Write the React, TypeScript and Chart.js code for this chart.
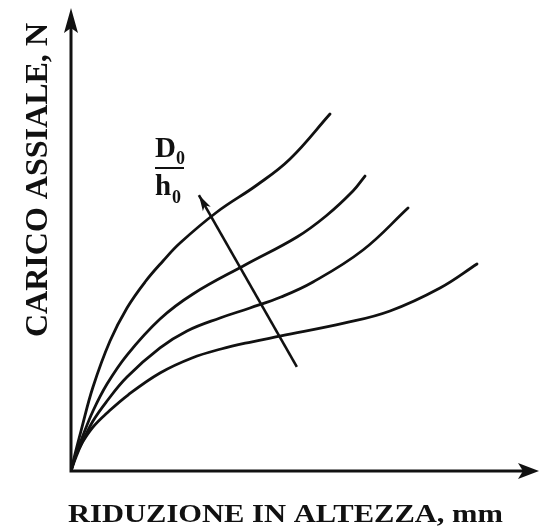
import React, { useEffect, useRef } from "react";
import { Chart, registerables } from "chart.js";

Chart.register(...registerables);

// Reduction in height (arbitrary units, 0-100) and axial load (arbitrary units, 0-100)
const curve1X = [0, 0.87, 2.17, 4.78, 8.48, 12.17, 16.09, 20.0, 23.7, 31.74, 40.43, 47.61, 56.3];
const curve1Y = [0, 3.67, 8.64, 18.14, 28.08, 35.21, 40.82, 45.36, 49.24, 55.94, 61.77, 67.39, 77.11];

const curve2X = [0, 1.09, 2.39, 4.78, 7.83, 12.17, 19.35, 26.52, 37.83, 49.13, 55.43, 61.3, 63.91];
const curve2Y = [0, 3.67, 7.13, 12.96, 18.79, 25.05, 32.83, 38.23, 44.49, 50.54, 55.08, 60.48, 63.71];

const curve3X = [0, 1.09, 2.39, 4.78, 7.83, 12.17, 19.35, 25.22, 32.39, 38.91, 45.65, 52.61, 63.48, 73.26];
const curve3Y = [0, 3.02, 6.05, 10.8, 15.12, 20.3, 26.57, 30.24, 33.05, 35.21, 37.58, 40.82, 47.73, 56.8];

const curve4X = [0, 1.09, 2.39, 4.78, 7.83, 12.39, 19.35, 26.3, 32.61, 39.13, 45.65, 59.57, 69.35, 80.22, 88.26];
const curve4Y = [0, 3.46, 6.05, 9.5, 12.53, 16.41, 21.17, 24.41, 26.35, 27.86, 29.16, 31.97, 34.56, 39.52, 44.71];

// Direction arrow for increasing D0/h0 (tail -> tip)
const arrowX = [49.1, 27.8];
const arrowY = [22.5, 59.6];

const xTitle = "RIDUZIONE IN ALTEZZA, mm";
const yTitle = "CARICO ASSIALE, N";
const ratioTop = "D";
const ratioBottom = "h";
const ratioSub = "0";

const INK = "#111111";
const SERIF = '"Liberation Serif", "DejaVu Serif", serif';

const toPoints = (xs: number[], ys: number[]) => xs.map((x, i) => ({ x, y: ys[i] }));

const drawHead = (
  ctx: CanvasRenderingContext2D,
  tx: number,
  ty: number,
  ang: number,
  len: number,
  half: number,
  notch: number
) => {
  ctx.save();
  ctx.translate(tx, ty);
  ctx.rotate(ang);
  ctx.beginPath();
  ctx.moveTo(0, 0);
  ctx.lineTo(-len, -half);
  ctx.lineTo(-len + notch, 0);
  ctx.lineTo(-len, half);
  ctx.closePath();
  ctx.fill();
  ctx.restore();
};

const fitText = (
  ctx: CanvasRenderingContext2D,
  text: string,
  font: string,
  targetWidth: number
) => {
  ctx.font = font;
  const w = ctx.measureText(text).width;
  ctx.save();
  ctx.scale(targetWidth / w, 1);
  ctx.fillText(text, 0, 0);
  ctx.restore();
};

const decorPlugin = {
  id: "decor",
  afterDatasetsDraw(chart: any) {
    const { ctx, chartArea, scales } = chart;
    const { left, bottom, top } = chartArea;
    const W = chart.width;
    ctx.save();
    ctx.fillStyle = INK;
    ctx.strokeStyle = INK;
    ctx.lineCap = "butt";

    // axes
    ctx.lineWidth = 3;
    ctx.beginPath();
    ctx.moveTo(left, bottom + 1.5);
    ctx.lineTo(left, top + 18);
    ctx.moveTo(left - 1.5, bottom);
    ctx.lineTo(W - 14, bottom);
    ctx.stroke();
    drawHead(ctx, left, top, -Math.PI / 2, 25, 7, 5);
    drawHead(ctx, W, bottom, 0, 21, 8, 5);

    // D0/h0 arrow head
    const xs = scales.x;
    const ys = scales.y;
    const x0 = xs.getPixelForValue(arrowX[0]);
    const y0 = ys.getPixelForValue(arrowY[0]);
    const x1 = xs.getPixelForValue(arrowX[1]);
    const y1 = ys.getPixelForValue(arrowY[1]);
    const ang = Math.atan2(y1 - y0, x1 - x0);
    drawHead(ctx, x1, y1, ang, 16, 4.5, 4);

    // ratio label
    ctx.textBaseline = "alphabetic";
    ctx.textAlign = "left";
    ctx.font = `bold 29px ${SERIF}`;
    ctx.fillText(ratioTop, 155, 157);
    ctx.fillText(ratioBottom, 155, 195);
    ctx.font = `bold 18px ${SERIF}`;
    ctx.fillText(ratioSub, 176, 164);
    ctx.fillText(ratioSub, 172, 203);
    ctx.fillRect(155, 167, 29, 2);

    // x title
    ctx.save();
    ctx.translate(68, 522);
    fitText(ctx, xTitle, `bold 25px ${SERIF}`, 435);
    ctx.restore();

    // y title
    ctx.save();
    ctx.translate(47, 337);
    ctx.rotate(-Math.PI / 2);
    fitText(ctx, yTitle, `bold 32px ${SERIF}`, 314);
    ctx.restore();

    ctx.restore();
  },
};

export default function App() {
  const canvasRef = useRef<HTMLCanvasElement | null>(null);

  useEffect(() => {
    const canvas = canvasRef.current;
    if (!canvas) return;
    const curveStyle = {
      borderColor: INK,
      borderWidth: 2.8,
      pointRadius: 0,
      fill: false,
      tension: 0.4,
      borderCapStyle: "round" as const,
      borderJoinStyle: "round" as const,
    };
    const chart = new Chart(canvas, {
      type: "line",
      data: {
        datasets: [
          { label: "D0/h0 1", data: toPoints(curve1X, curve1Y), ...curveStyle },
          { label: "D0/h0 2", data: toPoints(curve2X, curve2Y), ...curveStyle },
          { label: "D0/h0 3", data: toPoints(curve3X, curve3Y), ...curveStyle },
          { label: "D0/h0 4", data: toPoints(curve4X, curve4Y), ...curveStyle },
          {
            label: "D0/h0 crescente",
            data: toPoints(arrowX, arrowY),
            borderColor: INK,
            borderWidth: 2.6,
            pointRadius: 0,
            tension: 0,
            fill: false,
            borderCapStyle: "butt",
          },
        ],
      },
      options: {
        responsive: false,
        animation: false,
        devicePixelRatio: 1,
        layout: { padding: { left: 71, right: 8, top: 8, bottom: 55 } },
        plugins: { legend: { display: false }, tooltip: { enabled: false }, title: { display: false } },
        scales: {
          x: { type: "linear", min: 0, max: 100, display: false },
          y: { type: "linear", min: 0, max: 100, display: false },
        },
      },
      plugins: [decorPlugin],
    });
    return () => chart.destroy();
  }, []);

  return (
    <div style={{ position: "absolute", left: 0, top: 0, width: 539, height: 526, background: "#fff" }}>
      <canvas ref={canvasRef} width={539} height={526} style={{ display: "block" }} />
    </div>
  );
}
